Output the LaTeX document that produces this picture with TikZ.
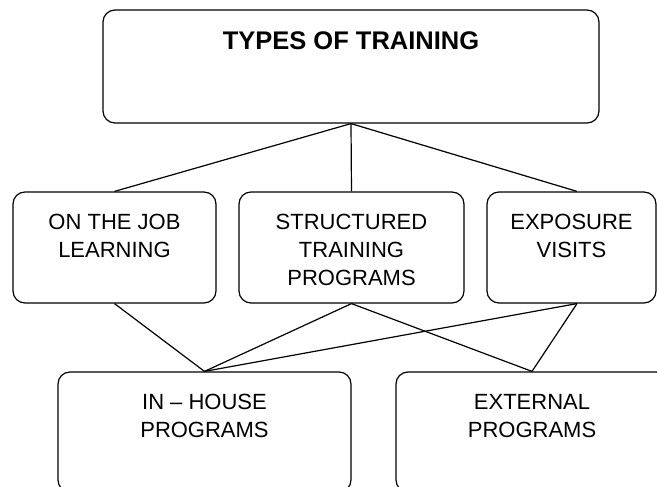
\documentclass[tikz,border=0pt]{standalone}
\usepackage{fontspec}
\setmainfont{Liberation Sans}
\newcommand{\boxtext}[3]{\parbox[c][#2][t]{#1}{\centering #3}}

\begin{document}
\begin{tikzpicture}[x=1pt,y=-1pt,line width=1.2pt,
    tbox/.style={draw, rounded corners=12pt, inner xsep=0pt, inner ysep=22pt,
        font=\fontsize{22}{28}\selectfont}]
    \useasboundingbox (0,0) rectangle (657,487);

    % top box
    \node[tbox] (types) at (351,66.5) {\boxtext{496pt}{69pt}{\bfseries\fontsize{25.5}{28}\selectfont TYPES OF TRAINING}};

    % middle row
    \node[tbox] (job) at (114.5,247.5) {\boxtext{203pt}{67pt}{ON THE JOB\\LEARNING}};
    \node[tbox] (struct) at (351.5,247.5) {\boxtext{225pt}{67pt}{STRUCTURED\\TRAINING\\PROGRAMS}};
    \node[tbox] (expo) at (571.5,247.5) {\boxtext{169pt}{67pt}{EXPOSURE\\VISITS}};

    % bottom row
    \node[tbox] (inhouse) at (204.5,432) {\boxtext{293pt}{76pt}{IN -- HOUSE\\PROGRAMS}};
    \node[tbox] (extern) at (532,432) {\boxtext{272pt}{76pt}{EXTERNAL\\PROGRAMS}};

    \draw (types.south) -- (job.north);
    \draw (types.south) -- (struct.north);
    \draw (types.south) -- ([xshift=5.5pt]expo.north);

    \draw (job.south) -- (inhouse.north);
    \draw (struct.south) -- (inhouse.north);
    \draw (struct.south) -- (extern.north);
    \draw ([xshift=5.5pt]expo.south) -- (inhouse.north);
    \draw ([xshift=5.5pt]expo.south) -- (extern.north);
\end{tikzpicture}
\end{document}
